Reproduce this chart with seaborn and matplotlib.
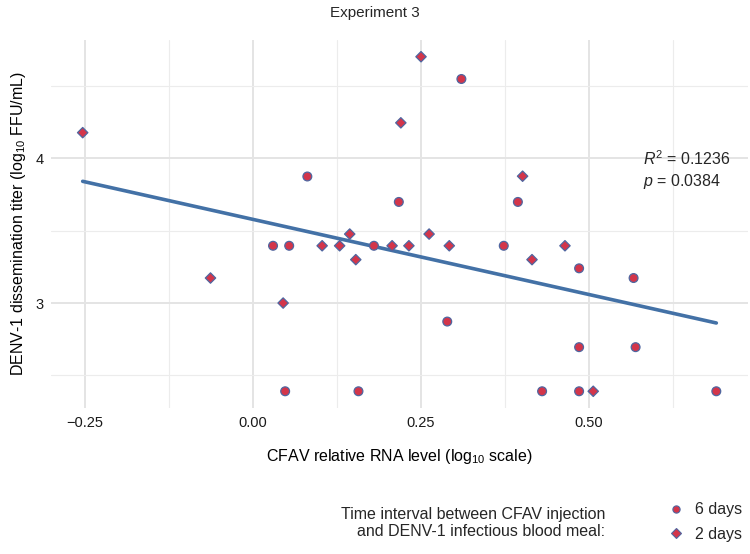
import seaborn as sns
import matplotlib.pyplot as plt
import pandas as pd
from matplotlib.lines import Line2D
from matplotlib.ticker import FixedLocator

# 6 days between CFAV injection and blood meal (circles)
rna_6d = [0.081, 0.217, 0.310, 0.394, 0.030, 0.054, 0.180, 0.048, 0.157,
          0.373, 0.485, 0.566, 0.289, 0.485, 0.569, 0.430, 0.485, 0.689]
titer_6d = [3.875, 3.699, 4.549, 3.699, 3.396, 3.396, 3.396, 2.390, 2.390,
            3.396, 3.240, 3.173, 2.872, 2.695, 2.695, 2.390, 2.390, 2.390]

# 2 days (diamonds)
rna_2d = [-0.253, 0.144, 0.220, 0.250, 0.401, 0.262, 0.103, 0.129, 0.153,
          0.207, -0.063, 0.045, 0.232, 0.292, 0.415, 0.464, 0.506]
titer_2d = [4.178, 3.477, 4.246, 4.703, 3.877, 3.477, 3.396, 3.396, 3.300,
            3.396, 3.173, 3.000, 3.396, 3.396, 3.300, 3.396, 2.390]

groups = ['6 days', '2 days']
x_ticks = [-0.25, 0.0, 0.25, 0.5]
x_ticklabels = ['\u22120.25', '0.00', '0.25', '0.50']
y_ticks = [3, 4]
stats_text = ['$\\mathit{R}^2$ = 0.1236', '$\\mathit{p}$ = 0.0384']

df = pd.DataFrame({
    'rna': rna_6d + rna_2d,
    'titer': titer_6d + titer_2d,
    'interval': ['6 days'] * len(rna_6d) + ['2 days'] * len(rna_2d),
})

sns.set_theme(style='whitegrid')
plt.rcParams['font.family'] = ['Liberation Sans', 'DejaVu Sans']
plt.rcParams['mathtext.fontset'] = 'custom'
plt.rcParams['mathtext.rm'] = 'Liberation Sans'
plt.rcParams['mathtext.it'] = 'Liberation Sans:italic'

fill_col = '#d3354a'
edge_col = '#4f66a0'
line_col = '#4371a6'
markers = {'6 days': 'o', '2 days': 'D'}
sizes = {'6 days': 40, '2 days': 28}

fig = plt.figure(figsize=(7.5, 5.54), dpi=100)
ax = fig.add_axes([51 / 750, 1 - 408 / 554, 697 / 750, 368 / 554])

sns.regplot(data=df, x='rna', y='titer', scatter=False, ci=None, ax=ax,
            line_kws={'color': line_col, 'linewidth': 2.6, 'zorder': 2})
sns.scatterplot(data=df, x='rna', y='titer', style='interval', markers=markers,
                style_order=groups, size='interval', sizes=sizes,
                size_order=groups, color=fill_col, edgecolor=edge_col,
                linewidth=0.9, ax=ax, legend=False, zorder=3)

# ggplot-like 5% expansion
xr = df['rna'].max() - df['rna'].min()
yr = df['titer'].max() - df['titer'].min()
ax.set_xlim(df['rna'].min() - 0.05 * xr, df['rna'].max() + 0.05 * xr)
ax.set_ylim(df['titer'].min() - 0.05 * yr, df['titer'].max() + 0.05 * yr)

ax.set_xticks(x_ticks)
ax.set_xticklabels(x_ticklabels)
ax.set_yticks(y_ticks)
ax.xaxis.set_minor_locator(FixedLocator([-0.125, 0.125, 0.375, 0.625]))
ax.yaxis.set_minor_locator(FixedLocator([2.5, 3.5, 4.5]))
ax.grid(which='major', color='#e4e4e4', linewidth=1.4)
ax.grid(which='minor', color='#ececec', linewidth=0.8)
ax.tick_params(which='both', length=0, labelsize=10.5, colors='#1a1a1a')
ax.tick_params(axis='x', pad=6)
ax.tick_params(axis='y', pad=5)
for s in ax.spines.values():
    s.set_visible(False)

ax.set_xlabel('CFAV relative RNA level (log$_{10}$ scale)', fontsize=11.5,
              color='black', labelpad=12)
ax.set_ylabel('DENV-1 dissemination titer (log$_{10}$ FFU/mL)', fontsize=11.5,
              color='black', labelpad=6)
fig.text(0.5, 1 - 13 / 554, 'Experiment 3', ha='center', va='center', fontsize=11)

ax.text(0.58, 4.0, stats_text[0], fontsize=11.5, va='center', ha='left')
ax.text(0.58, 3.84, stats_text[1], fontsize=11.5, va='center', ha='left')

# legend at bottom, title on the left of the keys
handles = [Line2D([], [], linestyle='', marker=markers[g],
                  markersize=5.2 if g == '6 days' else 4.6,
                  markerfacecolor=fill_col, markeredgecolor=edge_col,
                  markeredgewidth=0.8) for g in groups]
fig.legend(handles, groups, loc='center left', frameon=False,
           bbox_to_anchor=(652 / 750, 1 - 522 / 554), fontsize=11.5,
           handletextpad=0.6, labelspacing=0.6, handlelength=1.2)
fig.text(605 / 750, 1 - 523 / 554,
         'Time interval between CFAV injection\nand DENV-1 infectious blood meal:',
         ha='right', va='center', multialignment='right', fontsize=11.5,
         linespacing=1.15)

plt.savefig('out.png', dpi=100)
